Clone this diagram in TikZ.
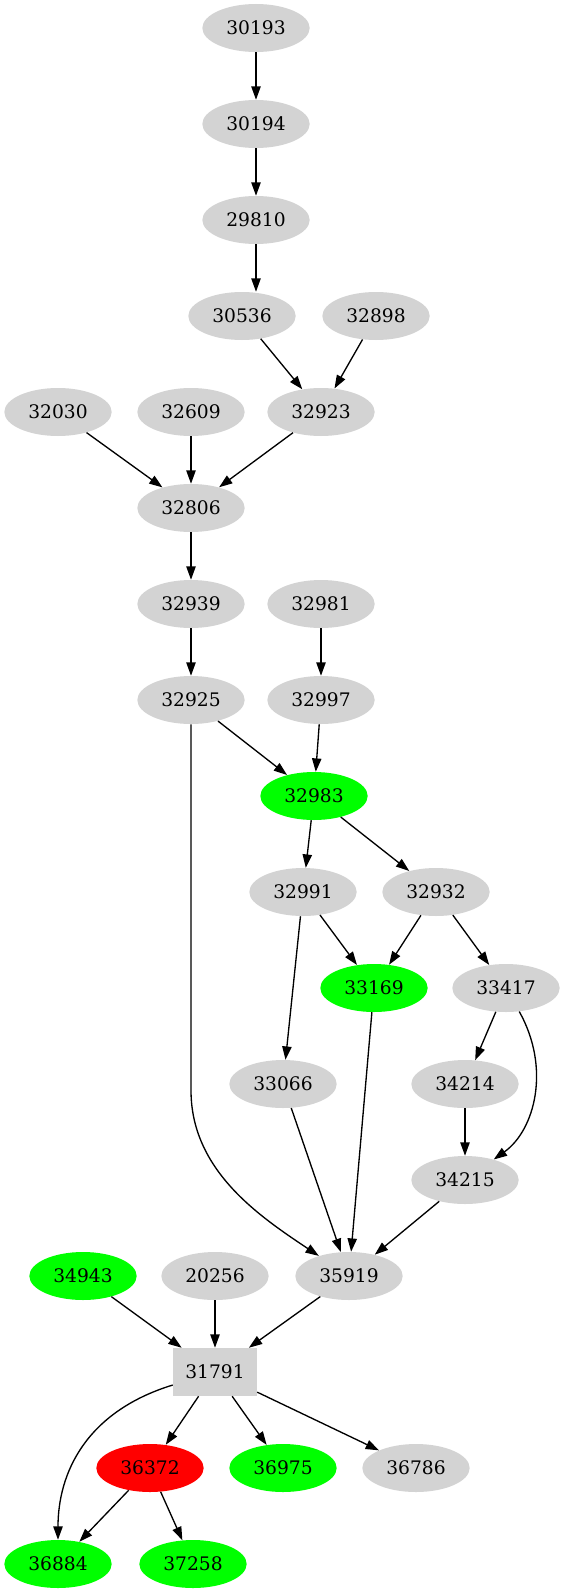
\documentclass[tikz,border=0pt]{standalone}
\usepackage{fontspec}
\setmainfont{DejaVu Serif}
\usetikzlibrary{shapes.geometric,arrows.meta}
\definecolor{gvgray}{RGB}{211,211,211}
\tikzset{
  gnode/.style={ellipse, fill=gvgray, minimum width=80.5pt, minimum height=36pt, inner sep=0pt, font=\fontsize{14}{16}\selectfont},
  gbox/.style={rectangle, fill=gvgray, minimum width=63pt, minimum height=36pt, inner sep=0pt, font=\fontsize{14}{16}\selectfont},
  hitnode/.style={gnode, fill=green},
  badnode/.style={gnode, fill=red},
  link/.style={draw=black, line width=1pt, -{Triangle[length=10pt,width=7pt]}},
}
\begin{document}
\begin{tikzpicture}[x=0.75pt, y=-0.75pt]
\useasboundingbox (0,0) rectangle (563,1595);
% nodes, rank by rank
\node[gnode] (n30193) at (256,28) {30193};
\node[gnode] (n30194) at (256,124) {30194};
\node[gnode] (n29810) at (256,220) {29810};
\node[gnode] (n30536) at (242,316) {30536};
\node[gnode] (n32898) at (376,316) {32898};
\node[gnode] (n32030) at (58,412) {32030};
\node[gnode] (n32609) at (191,412) {32609};
\node[gnode] (n32923) at (321,412) {32923};
\node[gnode] (n32806) at (191,508) {32806};
\node[gnode] (n32939) at (191,604) {32939};
\node[gnode] (n32981) at (321,604) {32981};
\node[gnode] (n32925) at (191,700) {32925};
\node[gnode] (n32997) at (321,700) {32997};
\node[hitnode] (n32983) at (314,796) {32983};
\node[gnode] (n32991) at (303,892) {32991};
\node[gnode] (n32932) at (436,892) {32932};
\node[hitnode] (n33169) at (374,988) {33169};
\node[gnode] (n33417) at (506,988) {33417};
\node[gnode] (n33066) at (283,1084) {33066};
\node[gnode] (n34214) at (465,1084) {34214};
\node[gnode] (n34215) at (465,1180) {34215};
\node[hitnode] (n34943) at (83,1276) {34943};
\node[gnode] (n20256) at (215,1276) {20256};
\node[gnode] (n35919) at (349,1276) {35919};
\node[gbox] (n31791) at (215,1372) {31791};
\node[badnode] (n36372) at (150,1468) {36372};
\node[hitnode] (n36975) at (283,1468) {36975};
\node[gnode] (n36786) at (416,1468) {36786};
\node[hitnode] (n36884) at (58,1564) {36884};
\node[hitnode] (n37258) at (193,1564) {37258};
% edges
\draw[link] (n30193) -- (n30194);
\draw[link] (n30194) -- (n29810);
\draw[link] (n29810.south) -- (n29810.south |- n30536.north);
\draw[link] (n30536) -- (n32923);
\draw[link] (n32898) -- (n32923);
\draw[link] (n32030) -- (n32806);
\draw[link] (n32609) -- (n32806);
\draw[link] (n32923) -- (n32806);
\draw[link] (n32806) -- (n32939);
\draw[link] (n32939) -- (n32925);
\draw[link] (n32981) -- (n32997);
\draw[link] (n32925) -- (n32983);
\draw[link] (n32997) -- (n32983);
\draw[link] (n32925.south) -- ++(0,366) .. controls +(0,80) and +(-90,-60) .. (n35919);
\draw[link] (n32983) -- (n32991);
\draw[link] (n32983) -- (n32932);
\draw[link] (n32991) -- (n33169);
\draw[link] (n32932) -- (n33169);
\draw[link] (n32932) -- (n33417);
\draw[link] (n32991) -- (n33066);
\draw[link] (n33169) -- (n35919);
\draw[link] (n33417) -- (n34214);
\draw[link] (n33417) .. controls +(45,80) and +(70,-50) .. (n34215);
\draw[link] (n34214) -- (n34215);
\draw[link] (n33066) -- (n35919);
\draw[link] (n34215) -- (n35919);
\draw[link] (n34943) -- (n31791);
\draw[link] (n20256) -- (n31791);
\draw[link] (n35919) -- (n31791);
\draw[link] (n31791) .. controls +(-130,40) and +(0,-90) .. (n36884);
\draw[link] (n31791) -- (n36372);
\draw[link] (n31791) -- (n36975);
\draw[link] (n31791) -- (n36786);
\draw[link] (n36372) -- (n36884);
\draw[link] (n36372) -- (n37258);
\end{tikzpicture}
\end{document}
